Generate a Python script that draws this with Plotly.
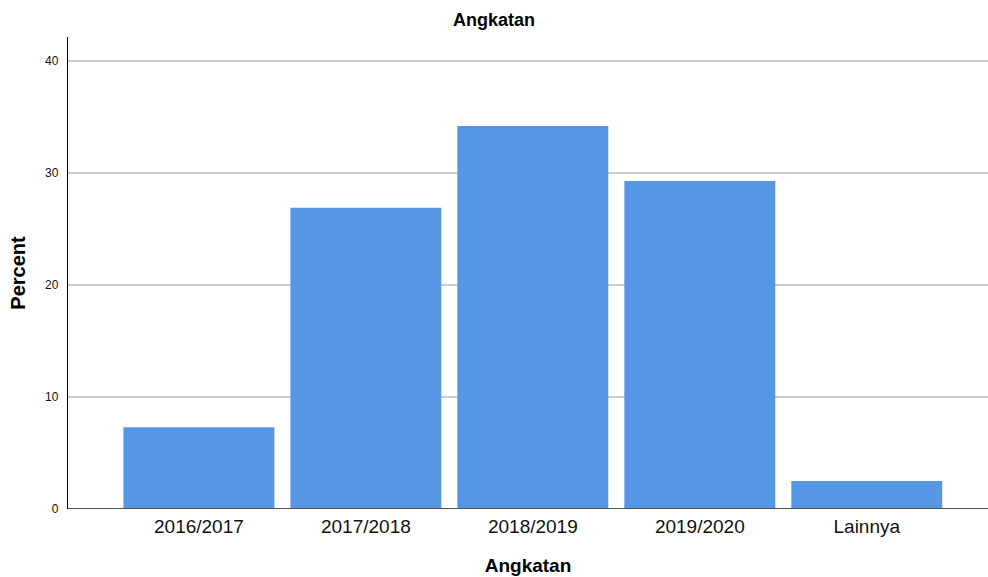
import plotly.graph_objects as go

# Angkatan (cohort) distribution, percent of respondents
categories = ["2016/2017", "2017/2018", "2018/2019", "2019/2020", "Lainnya"]
percent = [7.3, 26.9, 34.2, 29.3, 2.5]
y_ticks = [0, 10, 20, 30, 40]

FONT = "Liberation Sans, Arial, sans-serif"
BAR_COLOR = "#5596e5"

fig = go.Figure(
    go.Bar(
        x=list(range(len(categories))),
        y=percent,
        marker=dict(color=BAR_COLOR, line=dict(width=0)),
        hovertemplate="%{y}<extra></extra>",
    )
)

fig.update_layout(
    width=988,
    height=577,
    paper_bgcolor="white",
    plot_bgcolor="white",
    margin=dict(l=68, r=0, t=37, b=68),
    bargap=0.096,
    showlegend=False,
    font=dict(family=FONT, color="#000000"),
    title=dict(
        text="<b>Angkatan</b>",
        x=0.5,
        xanchor="center",
        y=1 - 20 / 577,
        yanchor="middle",
        font=dict(size=18, family=FONT, color="#000000"),
    ),
)

fig.update_xaxes(
    tickmode="array",
    tickvals=list(range(len(categories))),
    ticktext=categories,
    range=[-0.784, 4.726],
    showgrid=False,
    zeroline=False,
    showline=False,
    ticks="",
    ticklabelstandoff=4,
    tickfont=dict(size=19, family=FONT, color="#111111"),
    title=dict(text="<b>Angkatan</b>", font=dict(size=19, family=FONT, color="#000000"), standoff=22),
)

fig.update_yaxes(
    tickmode="array",
    tickvals=y_ticks,
    range=[0, 42.15],
    showgrid=True,
    gridcolor="#cccccc",
    gridwidth=1.6,
    zeroline=False,
    showline=True,
    linecolor="#000000",
    linewidth=1.3,
    ticks="",
    ticklabelstandoff=6,
    tickfont=dict(size=12, family=FONT, color="#111111"),
    title=dict(text="<b>Percent</b>", font=dict(size=20, family=FONT, color="#000000"), standoff=14),
)

# Baseline along y = 0
fig.add_shape(
    type="line",
    xref="paper",
    yref="y",
    x0=0,
    x1=1,
    y0=0,
    y1=0,
    line=dict(color="#555555", width=2),
    layer="above",
)

fig.write_html("out.html")
